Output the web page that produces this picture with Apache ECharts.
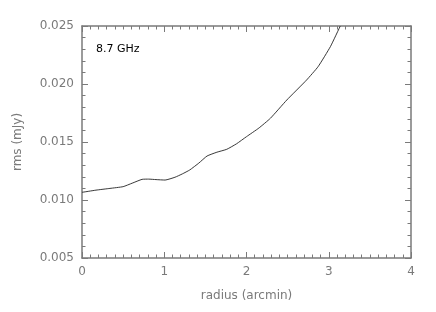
<!DOCTYPE html>
<html><head><meta charset="utf-8">
<script src="https://cdn.jsdelivr.net/npm/echarts@6/dist/echarts.min.js"></script>
<style>html,body{margin:0;padding:0;background:#fff}#c{width:436px;height:312px}</style>
</head><body><div id="c"></div>
<script>
const radius = [0, 0.17, 0.34, 0.5, 0.61, 0.73, 0.81, 0.9, 1.01, 1.13, 1.22, 1.31, 1.42, 1.52, 1.64, 1.76, 1.88, 2.0, 2.15, 2.29, 2.49, 2.73, 2.87, 3.02, 3.14];
const rms = [0.01066, 0.01085, 0.0110, 0.01115, 0.01145, 0.01178, 0.0118, 0.01176, 0.01172, 0.01196, 0.01225, 0.01259, 0.01318, 0.01379, 0.01412, 0.01437, 0.01485, 0.01546, 0.01620, 0.01704, 0.01862, 0.02034, 0.02149, 0.02322, 0.0250];
const label = '8.7 GHz';
const xName = 'radius (arcmin)';
const yName = 'rms (mJy)';

const gray = '#7a7a7a';
const font = 'DejaVu Sans';
const chart = echarts.init(document.getElementById('c'));
function axis(extra, split, showLabel) {
  return Object.assign({
    type: 'value',
    axisLine: {show: true, onZero: false, lineStyle: {color: gray, width: 1.5}},
    axisTick: {show: true, inside: true, length: 6, lineStyle: {color: gray}},
    minorTick: {show: true, splitNumber: split, length: 3.5, lineStyle: {color: gray}},
    splitLine: {show: false},
    axisLabel: {show: showLabel, color: gray, fontFamily: font, fontSize: 12}
  }, extra);
}
chart.setOption({
  animation: false,
  grid: {left: 82, right: 25, top: 26, bottom: 54},
  xAxis: [
    axis({min: 0, max: 4, interval: 1, position: 'bottom',
      name: xName, nameLocation: 'middle', nameGap: 32,
      nameTextStyle: {color: gray, fontFamily: font, fontSize: 12}}, 10, true),
    axis({min: 0, max: 4, interval: 1, position: 'top'}, 10, false)
  ],
  yAxis: [
    axis({min: 0.005, max: 0.025, interval: 0.005, position: 'left',
      name: yName, nameLocation: 'middle', nameGap: 58, nameRotate: 90,
      nameTextStyle: {color: gray, fontFamily: font, fontSize: 12}}, 5, true),
    axis({min: 0.005, max: 0.025, interval: 0.005, position: 'right'}, 5, false)
  ],
  graphic: [{type: 'text', left: 96, top: 44, style: {text: label, fill: '#000', font: '11px "DejaVu Sans"'}}],
  series: [{type: 'line', xAxisIndex: 0, yAxisIndex: 0, smooth: 0.15, symbol: 'none',
    data: radius.map((r, i) => [r, rms[i]]),
    lineStyle: {color: '#222', width: 0.9}}]
});
chart.setOption({yAxis: [{axisLabel: {formatter: v => v.toFixed(3)}}, {}]});
</script></body></html>
